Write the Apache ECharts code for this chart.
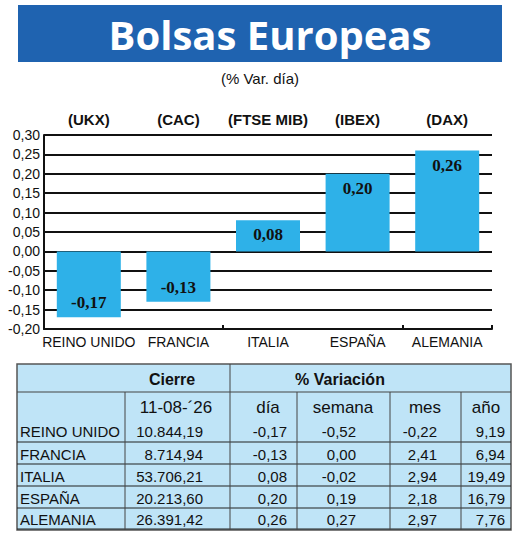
<!DOCTYPE html>
<html><head><meta charset="utf-8">
<script src="https://cdn.jsdelivr.net/npm/echarts@6/dist/echarts.min.js"></script>
<style>html,body{margin:0;padding:0;background:#fff}#c{width:520px;height:538px}</style>
</head><body><div id="c"></div>
<script>
const countries = ['REINO UNIDO','FRANCIA','ITALIA','ESPAÑA','ALEMANIA'];
const tickers = ['(UKX)','(CAC)','(FTSE MIB)','(IBEX)','(DAX)'];
const dayChange = [-0.17,-0.13,0.08,0.20,0.26];
const closeVals = ['10.844,19','8.714,94','53.706,21','20.213,60','26.391,42'];
const dayTxt = ['-0,17','-0,13','0,08','0,20','0,26'];
const weekTxt = ['-0,52','0,00','-0,02','0,19','0,27'];
const monthTxt = ['-0,22','2,41','2,94','2,18','2,97'];
const yearTxt = ['9,19','6,94','19,49','16,79','7,76'];
const colHeads = ['11-08-´26','día','semana','mes','año'];

const F = '"Liberation Sans Narrow","Liberation Sans",Arial,sans-serif';
const chart = echarts.init(document.getElementById('c'), null, {renderer:'svg'});
const g = [];
g.push({type:'rect',shape:{x:18,y:5,width:484,height:57},style:{fill:'#1f63b0'}});
g.push({type:'text',x:270,y:34,style:{text:'Bolsas Europeas',fill:'#fff',font:'bold 40px "Open Sans",sans-serif',align:'center',verticalAlign:'middle'}});
g.push({type:'text',x:260,y:78,style:{text:'(% Var. día)',fill:'#111',font:'15px '+F,align:'center',verticalAlign:'middle'}});
const tx=17, ty=364, tw=494, th=166;
g.push({type:'rect',shape:{x:tx,y:ty,width:tw,height:th},style:{fill:'#bfe4f7',stroke:'#555',lineWidth:1.5}});
const rowY=[364,392,420,443,465,487,509,530];
g.push({type:'line',shape:{x1:tx,y1:392,x2:tx+tw,y2:392},style:{stroke:'#444',lineWidth:1.2}});
for(let i=2;i<7;i++) g.push({type:'line',shape:{x1:tx,y1:rowY[i+1]-1,x2:tx+tw,y2:rowY[i+1]-1},style:{stroke:'#222',lineWidth:1.2}});
g.push({type:'line',shape:{x1:230,y1:364,x2:230,y2:530},style:{stroke:'#444',lineWidth:1}});
[125,297,390,461].forEach(x=>g.push({type:'line',shape:{x1:x,y1:392,x2:x,y2:530},style:{stroke:'#444',lineWidth:1}}));
g.push({type:'text',x:172,y:379,style:{text:'Cierre',fill:'#111',font:'bold 16px '+F,align:'center',verticalAlign:'middle'}});
g.push({type:'text',x:340,y:379,style:{text:'% Variación',fill:'#111',font:'bold 16px '+F,align:'center',verticalAlign:'middle'}});
const headX=[176,268,343,425,486];
colHeads.forEach((t,i)=>g.push({type:'text',x:headX[i],y:407,style:{text:t,fill:'#111',font:'17px '+F,align:'center',verticalAlign:'middle'}}));
const colsRight=[[closeVals,203],[dayTxt,287],[weekTxt,356],[monthTxt,437],[yearTxt,505]];
countries.forEach((c,r)=>{
  const y=(rowY[r+2]+rowY[r+3])/2;
  g.push({type:'text',x:20,y:y,style:{text:c,fill:'#111',font:'15px '+F,align:'left',verticalAlign:'middle'}});
  colsRight.forEach(([arr,x])=>g.push({type:'text',x:x,y:y,style:{text:arr[r],fill:'#111',font:'15px '+F,align:'right',verticalAlign:'middle'}}));
});

chart.setOption({
  animation:false,
  grid:{left:44,right:28,top:135,bottom:209},
  xAxis:[{type:'category',data:countries,position:'bottom',
    axisLine:{show:false,onZero:false},axisTick:{show:false},
    axisLabel:{interval:0,fontFamily:F,fontSize:14,color:'#111',margin:6}},
    {type:'category',data:tickers,position:'top',axisLine:{show:false},axisTick:{show:false},
    axisLabel:{interval:0,fontFamily:F,fontWeight:'bold',fontSize:15,color:'#111',margin:8}},
    {type:'category',data:countries,position:'bottom',axisLine:{show:true,onZero:true,lineStyle:{color:'#111',width:2}},
    axisTick:{show:true,inside:true,length:4,lineStyle:{color:'#111',width:2}},axisLabel:{show:false}}],
  yAxis:{type:'value',min:-0.2,max:0.3,interval:0.05,
    axisLine:{show:true,lineStyle:{color:'#111',width:2}},axisTick:{show:false},
    splitLine:{lineStyle:{color:'#111',width:2}},
    axisLabel:{fontFamily:F,fontSize:14,color:'#111',margin:4,formatter:v=>v.toFixed(2).replace('.',',')}},
  series:[{type:'bar',xAxisIndex:0,data:dayChange.map(v=>({value:v,label:{position:v<0?'insideBottom':'insideTop'}})),
    barWidth:64,itemStyle:{color:'#2eb1e8'},z:3,
    label:{show:true,fontFamily:'"Liberation Serif",serif',fontWeight:'bold',fontSize:17,color:'#111',distance:6,
      formatter:p=>p.value.toFixed(2).replace('.',',')}}],
  graphic:g
});
</script></body></html>
